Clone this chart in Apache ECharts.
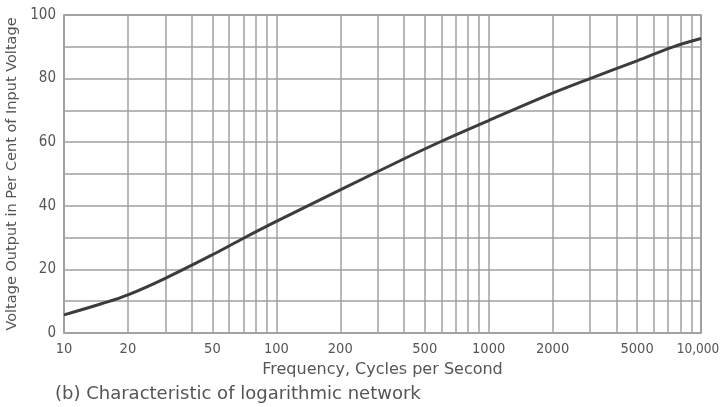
<!DOCTYPE html>
<html><head><meta charset="utf-8">
<script src="https://cdn.jsdelivr.net/npm/echarts@6/dist/echarts.min.js"></script>
<style>html,body{margin:0;padding:0;background:#fff}#c{width:721px;height:407px}</style>
</head><body><div id="c"></div>
<script>
// Curve: frequency (Hz) vs voltage output (% of input)
const freqs =   [10, 15, 20, 30, 50, 70, 100, 200, 400, 600, 1000, 2000, 3000, 5000, 7400, 10000];
const voltage = [5.7, 9.2, 12, 17.2, 24.6, 29.8, 35.1, 45, 54.8, 60.3, 66.8, 75.4, 80, 85.6, 90, 92.6];
// Minor log grid lines and labelled frequencies
const minorGrid = [20,30,40,50,60,70,80,90,200,300,400,500,600,700,800,900,2000,3000,4000,5000,6000,7000,8000,9000];
const labelledMinor = [20, 50, 200, 500, 2000, 5000];
const xMajorLabels = {10:'10', 100:'100', 1000:'1000', 10000:'10,000'};
const yLabelValues = [0, 20, 40, 60, 80, 100];
const xTitle = 'Frequency, Cycles per Second';
const yTitle = 'Voltage Output in Per Cent of Input Voltage';
const caption = '(b) Characteristic of logarithmic network';

const FONT = '"DejaVu Sans Condensed","DejaVu Sans",sans-serif';
const WFONT = '"DejaVu Sans",sans-serif';
const TXT = '#555';
const GRIDC = '#a0a0a0';
const chart = echarts.init(document.getElementById('c'), null, {renderer:'canvas'});
chart.setOption({
  backgroundColor:'#fff',
  animation:false,
  title:{text:caption, left:50, top:380, textStyle:{fontFamily:WFONT, fontSize:18, fontWeight:'normal', color:TXT}},
  grid:{left:64, right:20, top:15, bottom:74, show:true, borderColor:'#888', borderWidth:1.5,
    outerBoundsMode:'none', containLabel:false},
  xAxis:{type:'log', logBase:10, min:10, max:10000,
    name:xTitle, nameLocation:'middle', nameGap:29,
    nameTextStyle:{fontFamily:WFONT, fontSize:16, color:TXT},
    axisLine:{show:false}, axisTick:{show:false},
    splitLine:{show:true, lineStyle:{color:GRIDC, width:1.5}},
    axisLabel:{fontFamily:FONT, fontSize:14.5, color:TXT, margin:9,
      formatter:v=>{const s=xMajorLabels[Math.round(v)]||''; return Math.round(v)===10000?'{last|'+s+'}':s;},
      rich:{last:{fontFamily:FONT, fontSize:13.5, color:TXT, padding:[0,6,0,0]}}}},
  yAxis:{type:'value', min:0, max:100, interval:10,
    name:yTitle, nameLocation:'middle', nameGap:42, nameRotate:90,
    nameTextStyle:{fontFamily:WFONT, fontSize:14.5, color:TXT},
    axisLine:{show:false}, axisTick:{show:false},
    splitLine:{show:true, lineStyle:{color:GRIDC, width:1.5}},
    axisLabel:{fontFamily:FONT, fontSize:15, color:TXT, margin:8,
      formatter:v=>yLabelValues.includes(v)?String(v):''}},
  series:[{
    type:'line', smooth:0.35, symbol:'none',
    data:freqs.map((f,i)=>[f, voltage[i]]),
    lineStyle:{color:'#3c3c3c', width:3}, z:5,
    markLine:{silent:true, symbol:['none','none'], animation:false,
      lineStyle:{color:GRIDC, width:1.5, type:'solid'},
      label:{show:false},
      data:minorGrid.map(f=>({xAxis:f,
        label:{show:labelledMinor.includes(f), position:'start', distance:9,
          formatter:String(f), fontFamily:FONT, fontSize:14.5, color:TXT}}))}
  }]
});
</script></body></html>
